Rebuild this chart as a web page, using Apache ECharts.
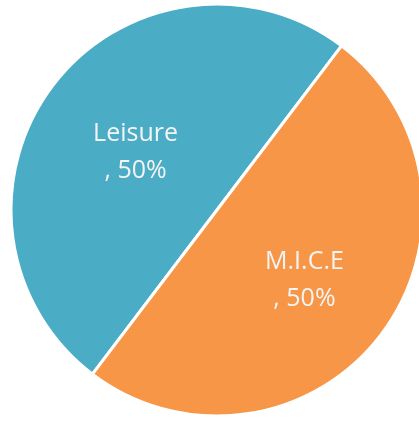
<!DOCTYPE html>
<html><head><meta charset="utf-8">
<script src="https://cdn.jsdelivr.net/npm/echarts@6/dist/echarts.min.js"></script>
<style>html,body{margin:0;padding:0;background:#fff}#c{width:419px;height:421px}</style>
</head><body><div id="c"></div>
<script>
const categories = ['Leisure', 'M.I.C.E'];
const values = [50, 50];
const colors = ['#4BACC6', '#F79646'];

const chart = echarts.init(document.getElementById('c'), null, {renderer: 'canvas'});
chart.setOption({
  animation: false,
  series: [{
    type: 'pie',
    center: [217, 210],
    radius: 206,
    startAngle: 232.8,
    clockwise: true,
    data: categories.map((c, i) => ({name: c, value: values[i], itemStyle: {color: colors[i]}})),
    itemStyle: {borderColor: '#fff', borderWidth: 3},
    label: {
      show: true,
      position: 'inside',
      formatter: '{b}\n, {d}%',
      color: '#f4f4f4',
      fontFamily: 'Open Sans',
      fontSize: 25,
      lineHeight: 37,
      offset: [3, 6]
    },
    labelLine: {show: false},
    emphasis: {disabled: true}
  }]
});
</script></body></html>
